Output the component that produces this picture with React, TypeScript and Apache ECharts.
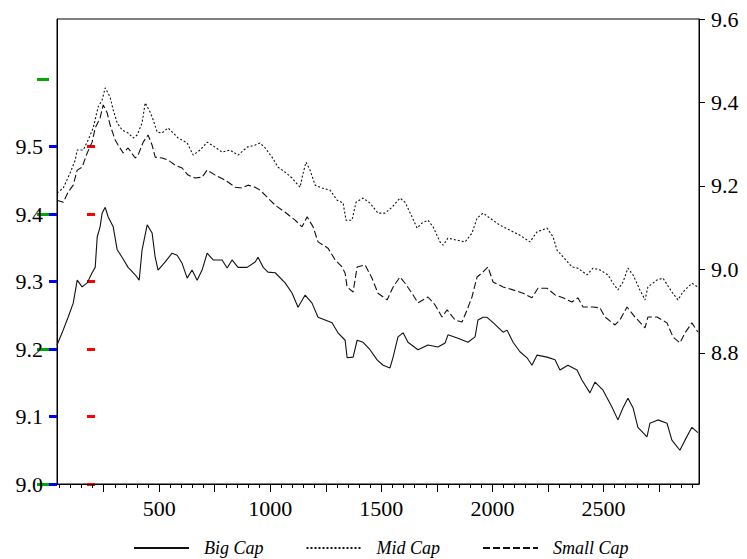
import React, { useEffect, useRef } from "react";
import * as echarts from "echarts";

// Big Cap (left axis) [day, log index]
const bigCap: [number, number][] = [
  [40, 9.206], [63, 9.224], [90, 9.247], [113, 9.268], [131, 9.302], [153, 9.292],
  [176, 9.298], [198, 9.313], [212, 9.321], [221, 9.366], [234, 9.381], [243, 9.401],
  [257, 9.41], [270, 9.396], [293, 9.381], [311, 9.347], [333, 9.336], [360, 9.321],
  [392, 9.31], [410, 9.302], [423, 9.347], [446, 9.384], [468, 9.372], [482, 9.336],
  [495, 9.317], [527, 9.329], [558, 9.342], [581, 9.339], [603, 9.327], [626, 9.305],
  [648, 9.317], [671, 9.302], [693, 9.317], [716, 9.342], [743, 9.332], [783, 9.332],
  [806, 9.32], [828, 9.332], [855, 9.321], [896, 9.321], [932, 9.329], [945, 9.336],
  [968, 9.321], [990, 9.314], [1022, 9.313], [1067, 9.298], [1098, 9.283], [1125, 9.262],
  [1157, 9.28], [1188, 9.268], [1215, 9.247], [1247, 9.243], [1278, 9.239], [1305, 9.224],
  [1337, 9.213], [1346, 9.187], [1373, 9.188], [1391, 9.213], [1418, 9.21], [1449, 9.199],
  [1481, 9.184], [1508, 9.176], [1539, 9.172], [1553, 9.188], [1575, 9.218], [1598, 9.224],
  [1620, 9.21], [1665, 9.199], [1710, 9.206], [1755, 9.203], [1787, 9.209], [1800, 9.221],
  [1845, 9.216], [1890, 9.21], [1922, 9.218], [1935, 9.243], [1958, 9.247], [1976, 9.247],
  [2003, 9.239], [2048, 9.225], [2066, 9.228], [2093, 9.21], [2124, 9.196], [2156, 9.187],
  [2178, 9.176], [2201, 9.191], [2246, 9.188], [2282, 9.184], [2304, 9.169], [2340, 9.176],
  [2381, 9.169], [2403, 9.154], [2439, 9.135], [2462, 9.151], [2498, 9.139], [2538, 9.114],
  [2565, 9.095], [2588, 9.113], [2610, 9.127], [2633, 9.113], [2655, 9.084], [2696, 9.07],
  [2709, 9.09], [2745, 9.095], [2786, 9.09], [2808, 9.065], [2844, 9.05], [2867, 9.065],
  [2898, 9.084], [2925, 9.076],
];

// Mid Cap (right axis)
const midCap: [number, number][] = [
  [40, 9.183], [68, 9.195], [99, 9.231], [122, 9.262], [131, 9.286], [158, 9.286],
  [180, 9.31], [203, 9.339], [225, 9.389], [243, 9.406], [257, 9.435], [279, 9.413],
  [293, 9.382], [311, 9.351], [333, 9.334], [360, 9.327], [383, 9.315], [401, 9.322],
  [423, 9.351], [437, 9.399], [459, 9.377], [473, 9.358], [491, 9.329], [513, 9.327],
  [540, 9.339], [563, 9.327], [585, 9.315], [626, 9.303], [653, 9.274], [684, 9.286],
  [716, 9.305], [752, 9.293], [783, 9.281], [819, 9.286], [855, 9.274], [896, 9.293],
  [932, 9.298], [954, 9.303], [977, 9.291], [1008, 9.269], [1035, 9.245], [1067, 9.233],
  [1098, 9.219], [1134, 9.197], [1148, 9.231], [1161, 9.257], [1179, 9.238], [1202, 9.202],
  [1233, 9.195], [1269, 9.19], [1301, 9.166], [1328, 9.159], [1341, 9.118], [1368, 9.118],
  [1386, 9.161], [1418, 9.171], [1449, 9.159], [1485, 9.135], [1517, 9.135], [1548, 9.149],
  [1584, 9.171], [1607, 9.161], [1638, 9.126], [1661, 9.099], [1683, 9.111], [1710, 9.118],
  [1733, 9.102], [1764, 9.066], [1778, 9.058], [1800, 9.075], [1841, 9.07], [1877, 9.066],
  [1908, 9.087], [1931, 9.123], [1958, 9.135], [1989, 9.123], [2034, 9.106], [2079, 9.094],
  [2124, 9.082], [2169, 9.066], [2201, 9.09], [2246, 9.099], [2273, 9.078], [2291, 9.046],
  [2318, 9.03], [2358, 9.006], [2385, 9.003], [2426, 8.987], [2453, 9.003], [2484, 8.999],
  [2520, 8.987], [2543, 8.967], [2565, 8.951], [2588, 8.97], [2610, 9.003], [2633, 8.987],
  [2664, 8.951], [2687, 8.927], [2700, 8.958], [2741, 8.975], [2768, 8.979], [2808, 8.946],
  [2835, 8.927], [2858, 8.946], [2898, 8.967], [2925, 8.958],
];

// Small Cap (right axis)
const smallCap: [number, number][] = [
  [40, 9.166], [68, 9.161], [90, 9.185], [113, 9.202], [131, 9.238], [153, 9.245],
  [176, 9.279], [198, 9.305], [212, 9.339], [234, 9.363], [248, 9.394], [266, 9.375],
  [279, 9.346], [302, 9.31], [315, 9.298], [338, 9.279], [360, 9.291], [392, 9.267],
  [405, 9.274], [428, 9.305], [450, 9.322], [468, 9.298], [482, 9.269], [513, 9.267],
  [540, 9.262], [572, 9.25], [603, 9.243], [630, 9.226], [662, 9.219], [693, 9.221],
  [716, 9.238], [752, 9.226], [797, 9.214], [842, 9.197], [873, 9.195], [900, 9.202],
  [932, 9.197], [954, 9.19], [977, 9.178], [999, 9.166], [1022, 9.154], [1067, 9.137],
  [1112, 9.118], [1143, 9.102], [1166, 9.126], [1193, 9.102], [1215, 9.066], [1260, 9.051],
  [1292, 9.023], [1323, 9.006], [1337, 8.991], [1346, 8.958], [1373, 8.946], [1391, 9.006],
  [1427, 9.011], [1458, 8.979], [1485, 8.943], [1526, 8.927], [1553, 8.958], [1584, 8.982],
  [1607, 8.967], [1638, 8.943], [1665, 8.92], [1710, 8.934], [1742, 8.915], [1773, 8.886],
  [1796, 8.903], [1832, 8.879], [1863, 8.874], [1886, 8.903], [1908, 8.934], [1931, 8.982],
  [1958, 8.994], [1980, 9.006], [2003, 8.97], [2048, 8.958], [2093, 8.951], [2138, 8.943],
  [2178, 8.932], [2205, 8.955], [2246, 8.955], [2282, 8.939], [2318, 8.932], [2358, 8.922],
  [2385, 8.932], [2408, 8.91], [2453, 8.91], [2484, 8.908], [2507, 8.886], [2552, 8.867],
  [2574, 8.879], [2606, 8.91], [2642, 8.886], [2687, 8.86], [2700, 8.886], [2741, 8.886],
  [2786, 8.872], [2813, 8.838], [2844, 8.824], [2867, 8.848], [2898, 8.872], [2925, 8.85],
];

const seriesNames = ["Big Cap", "Mid Cap", "Small Cap"];
const xLabelValues = [500, 1000, 1500, 2000, 2500];
const leftLabelValues = [9.0, 9.1, 9.2, 9.3, 9.4, 9.5];
const rightLabelValues = [8.8, 9.0, 9.2, 9.4, 9.6];

const X_MIN = 40;
const X_MAX = 2930;
const LEFT_MIN = 9.0;
const LEFT_MAX = 9.689;
const RIGHT_MIN = 8.486;
const RIGHT_MAX = 9.6;

const xMajorTick = { first: 250, last: 2750, step: 250 };
const xMinorTick = { first: 50, last: 2900, step: 50 };
const leftTick = { first: 9.0, last: 9.5, step: 0.1 };
const leftTickAlt = { first: 9.0, last: 9.6, step: 0.2 };
const rightTick = { first: 8.8, last: 9.6, step: 0.2 };

const W = 747;
const H = 559;
const PLOT = { left: 57, right: 48, top: 19, bottom: 75 };
const TICK = { xMajor: 8, xMinor: 4, left: 8, right: 6 };

const FONT = "'Liberation Serif', 'DejaVu Serif', serif";
const INK = "#111";

type Span = { first: number; last: number; step: number };

export default function App() {
  const ref = useRef<HTMLDivElement>(null);
  useEffect(() => {
    if (!ref.current) return;
    const chart = echarts.init(ref.current, null, { renderer: "svg" });
    const axisLine = { show: true, lineStyle: { color: "#000", width: 1 } };
    const labelStyle = { fontFamily: FONT, fontSize: 22, color: "#000" };
    const tickLine = { color: "#000", width: 1, type: "solid" };

    const plotW = W - PLOT.left - PLOT.right;
    const plotH = H - PLOT.top - PLOT.bottom;
    const kx = plotW / (X_MAX - X_MIN);
    const kl = plotH / (LEFT_MAX - LEFT_MIN);
    const kr = plotH / (RIGHT_MAX - RIGHT_MIN);
    const plotBottomY = H - PLOT.bottom;

    const xTickGrid = (t: Span, len: number) => ({
      left: PLOT.left + (t.first - X_MIN) * kx,
      right: PLOT.right + (X_MAX - t.last) * kx,
      top: plotBottomY,
      height: len,
      show: false,
    });
    const leftGridAt = (t: Span, x0: number, w: number) => ({
      left: x0,
      right: W - x0 - w,
      top: PLOT.top + (LEFT_MAX - t.last) * kl,
      bottom: PLOT.bottom + (t.first - LEFT_MIN) * kl,
      show: false,
    });
    const rightTickGrid = {
      left: W - PLOT.right,
      right: PLOT.right - TICK.right,
      top: PLOT.top + (RIGHT_MAX - rightTick.last) * kr,
      bottom: PLOT.bottom + (rightTick.first - RIGHT_MIN) * kr,
      show: false,
    };

    const grids = [
      { ...PLOT, show: true, borderColor: "#000", borderWidth: 1, containLabel: false },
      xTickGrid(xMajorTick, TICK.xMajor),
      xTickGrid(xMinorTick, TICK.xMinor),
      leftGridAt(leftTick, PLOT.left - TICK.left, TICK.left), // 3: outside, blue
      rightTickGrid, // 4
      leftGridAt(leftTick, PLOT.left + 30, TICK.left), // 5: inside, red
      leftGridAt(leftTickAlt, PLOT.left - 20, 12), // 6: far left, green
    ];

    const hidden = (gridIndex: number) => ({
      type: "value",
      gridIndex,
      min: 0,
      max: 1,
      axisLine: { show: false },
      axisTick: { show: false },
      axisLabel: { show: false },
      splitLine: { show: false },
    });

    const tickAxis = (gridIndex: number, t: Span, color = "#000", width = 1) => ({
      type: "value",
      gridIndex,
      min: t.first,
      max: t.last,
      interval: t.step,
      axisLine: { show: false },
      axisTick: { show: false },
      axisLabel: { show: false },
      splitLine: { show: true, showMinLine: true, showMaxLine: true, lineStyle: { color, width, type: "solid" } },
    });

    chart.setOption({
      animation: false,
      backgroundColor: "#fff",
      grid: grids,
      legend: {
        data: seriesNames,
        left: 128,
        top: 534,
        itemWidth: 55,
        itemHeight: 18,
        itemGap: 42,
        itemStyle: { opacity: 0, borderWidth: 0 },
        textStyle: {
          fontFamily: FONT,
          fontStyle: "italic",
          fontSize: 18,
          color: "#000",
          padding: [0, 0, 0, 10],
        },
      },
      xAxis: [
        {
          type: "value",
          gridIndex: 0,
          min: X_MIN,
          max: X_MAX,
          position: "bottom",
          axisLine,
          axisTick: { show: false },
          axisLabel: {
            ...labelStyle,
            customValues: xLabelValues,
            margin: 13,
            formatter: (v: number) => String(v),
          },
          splitLine: { show: false },
        },
        tickAxis(1, xMajorTick),
        tickAxis(2, xMinorTick),
        hidden(3),
        hidden(4),
        hidden(5),
        hidden(6),
      ],
      yAxis: [
        {
          type: "value",
          gridIndex: 0,
          min: LEFT_MIN,
          max: LEFT_MAX,
          position: "left",
          axisLine,
          axisTick: { show: false },
          axisLabel: {
            ...labelStyle,
            customValues: leftLabelValues,
            margin: 14,
            formatter: (v: number) => v.toFixed(1),
          },
          splitLine: { show: false },
        },
        {
          type: "value",
          gridIndex: 0,
          min: RIGHT_MIN,
          max: RIGHT_MAX,
          position: "right",
          axisLine,
          axisTick: { show: false },
          axisLabel: {
            ...labelStyle,
            customValues: rightLabelValues,
            margin: 12,
            formatter: (v: number) => v.toFixed(1),
          },
          splitLine: { show: false },
        },
        hidden(1),
        hidden(2),
        tickAxis(3, leftTick, "#0000ff", 3),
        tickAxis(4, rightTick),
        tickAxis(5, leftTick, "#ff0000", 3),
        tickAxis(6, leftTickAlt, "#00aa00", 3),
      ],
      series: [
        {
          name: seriesNames[0],
          type: "line",
          xAxisIndex: 0,
          yAxisIndex: 0,
          data: bigCap,
          symbol: "none",
          showSymbol: false,
          itemStyle: { color: "transparent" },
          lineStyle: { color: INK, width: 1.1, type: "solid" },
        },
        {
          name: seriesNames[1],
          type: "line",
          xAxisIndex: 0,
          yAxisIndex: 1,
          data: midCap,
          symbol: "none",
          showSymbol: false,
          itemStyle: { color: "transparent" },
          lineStyle: { color: INK, width: 1.1, type: [2, 2] },
        },
        {
          name: seriesNames[2],
          type: "line",
          xAxisIndex: 0,
          yAxisIndex: 1,
          data: smallCap,
          symbol: "none",
          showSymbol: false,
          itemStyle: { color: "transparent" },
          lineStyle: { color: INK, width: 1.1, type: [7, 3] },
        },
      ],
    });
    return () => chart.dispose();
  }, []);
  return (
    <div
      ref={ref}
      style={{ position: "absolute", left: 0, top: 0, width: W, height: H, background: "#fff" }}
    />
  );
}
